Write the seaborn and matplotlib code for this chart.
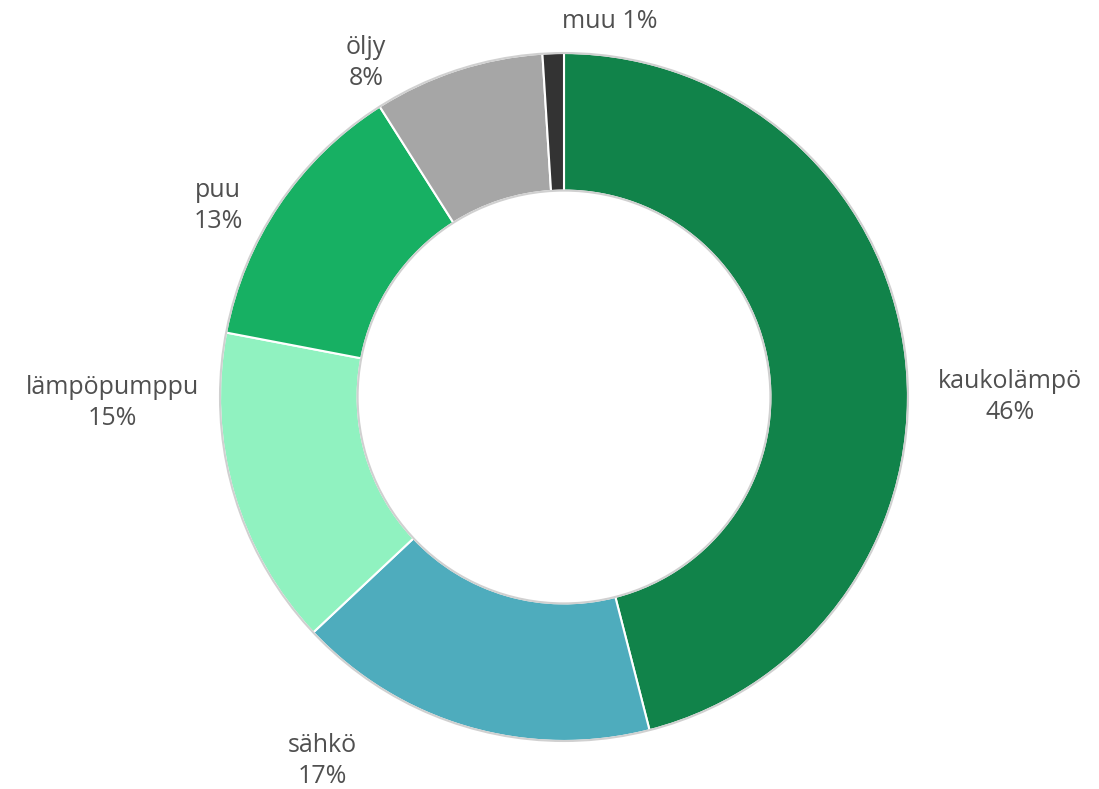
import matplotlib
matplotlib.use("Agg")
import matplotlib.pyplot as plt
import seaborn as sns

categories = ["kaukolämpö", "sähkö", "lämpöpumppu", "puu", "öljy", "muu"]
values = [46, 17, 15, 13, 8, 1]
colors = ["#11834a", "#4eacbd", "#90f2c0", "#17b063", "#a6a6a6", "#333333"]

# label anchor offsets from the donut centre (pixels, y up)
label_pos = [(446, 0), (-242, -364), (-452, -6), (-346, 191), (-198, 334), (46, 375)]
label_fmt = ["{}\n{}%", "{}\n{}%", "{}\n{}%", "{}\n{}%", "{}\n{}%", "{} {}%"]

sns.set_theme(style="white")
plt.rcParams["font.family"] = ["Open Sans", "DejaVu Sans"]

W, H = 1099, 789
cx, cy = 564, 397
R = 344
fig = plt.figure(figsize=(W / 100, H / 100), dpi=100)
ax = fig.add_axes([0, 0, 1, 1])

wedges, _ = ax.pie(values, colors=colors, startangle=90, counterclock=False,
                   radius=R, center=(0, 0),
                   wedgeprops=dict(width=R * 0.4, edgecolor="white", linewidth=1.5))
# thin grey outline on outer and inner rims
for r in (R, R * 0.6):
    ax.add_patch(plt.Circle((0, 0), r, fill=False, edgecolor="#d0d0d0", linewidth=1.5))

for cat, v, (x, y), fmt in zip(categories, values, label_pos, label_fmt):
    ax.text(x, y, fmt.format(cat, v), ha="center", va="center", fontsize=18,
            color="#505050", linespacing=1.32)

ax.set_xlim(-cx, W - cx)
ax.set_ylim(-(H - cy), cy)
ax.set_aspect("equal")
ax.axis("off")

fig.savefig("out.png", dpi=100)
